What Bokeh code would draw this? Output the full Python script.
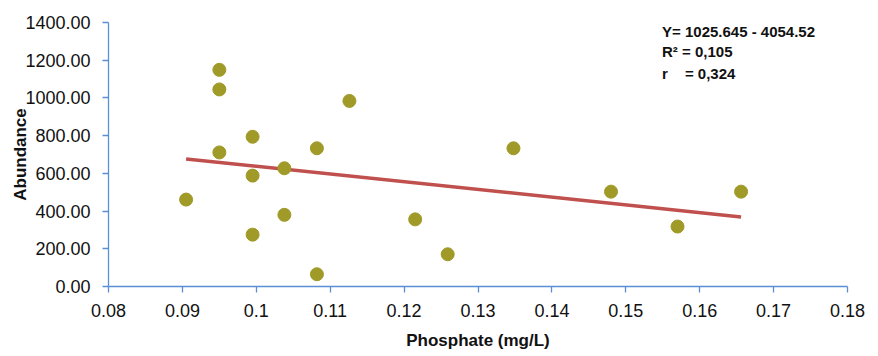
import numpy as np
from bokeh.plotting import figure
from bokeh.models import Range1d, FixedTicker, CustomJSTickFormatter, Label
from bokeh.embed import file_html
from bokeh.resources import INLINE

# data
phosphate = [0.0905, 0.0950, 0.0950, 0.0950, 0.0995, 0.0995, 0.0995, 0.1038, 0.1038,
             0.1082, 0.1082, 0.1126, 0.1215, 0.1259, 0.1348, 0.1480, 0.1570, 0.1656]
abundance = [461, 1149, 1045, 711, 794, 588, 275, 627, 380,
             733, 65, 984, 356, 171, 733, 503, 318, 503]

x_ticks = [0.08, 0.09, 0.10, 0.11, 0.12, 0.13, 0.14, 0.15, 0.16, 0.17, 0.18]
x_tick_labels = ["0.08", "0.09", "0.1", "0.11", "0.12", "0.13", "0.14", "0.15", "0.16", "0.17", "0.18"]
y_ticks = [0, 200, 400, 600, 800, 1000, 1200, 1400]

eq_text = "Y= 1025.645 - 4054.52"
r2_text = "R\u00b2 = 0,105"
r_name = "r"
r_value = "= 0,324"

FONT = "Liberation Sans, Arial, sans-serif"
AXIS_COLOR = "#5B8FD4"
TEXT_COLOR = "#111111"

p = figure(width=870, height=354, output_backend="svg", toolbar_location=None,
           x_range=Range1d(0.08, 0.18), y_range=Range1d(0, 1400),
           min_border_left=108, min_border_right=23, min_border_top=22, min_border_bottom=68)
p.outline_line_color = None
p.xgrid.visible = False
p.ygrid.visible = False
p.background_fill_color = "white"

# regression line fitted to the data
slope, intercept = np.polyfit(phosphate, abundance, 1)
xs = [min(phosphate), max(phosphate)]
p.line(xs, [intercept + slope * v for v in xs], line_color="#C0504D", line_width=3.5)

p.scatter(phosphate, abundance, size=13, fill_color="#A09A28", line_color="#A09A28")

for ax in (p.xaxis[0], p.yaxis[0]):
    ax.axis_line_color = AXIS_COLOR
    ax.axis_line_width = 1.3
    ax.major_tick_line_color = AXIS_COLOR
    ax.major_tick_line_width = 1.3
    ax.major_tick_out = 6
    ax.major_tick_in = 0
    ax.minor_tick_out = 0
    ax.minor_tick_in = 0
    ax.major_label_text_font = FONT
    ax.major_label_text_font_size = "18px"
    ax.major_label_text_color = TEXT_COLOR
    ax.axis_label_text_font = FONT
    ax.axis_label_text_font_style = "bold"
    ax.axis_label_text_font_size = "17px"
    ax.axis_label_text_color = TEXT_COLOR

p.xaxis.ticker = FixedTicker(ticks=x_ticks)
p.xaxis.major_label_overrides = {t: l for t, l in zip(x_ticks, x_tick_labels)}
p.xaxis.major_label_standoff = 11
p.xaxis.axis_label = "Phosphate (mg/L)"
p.xaxis.axis_label_standoff = 11

p.yaxis.ticker = FixedTicker(ticks=y_ticks)
p.yaxis.formatter = CustomJSTickFormatter(code="return tick.toFixed(2);")
p.yaxis.major_label_standoff = 12
p.yaxis.axis_label = "Abundance"
p.yaxis.axis_label_standoff = -8

def add_text(x, y, txt):
    p.add_layout(Label(x=x, y=y, text=txt, text_font=FONT, text_font_style="bold",
                       text_font_size="15px", text_baseline="alphabetic", text_color=TEXT_COLOR))

add_text(0.1549, 1352, eq_text)
add_text(0.1549, 1246, r2_text)
add_text(0.1549, 1130, r_name)
add_text(0.1580, 1130, r_value)

open("out.html", "w").write(file_html(p, INLINE))
